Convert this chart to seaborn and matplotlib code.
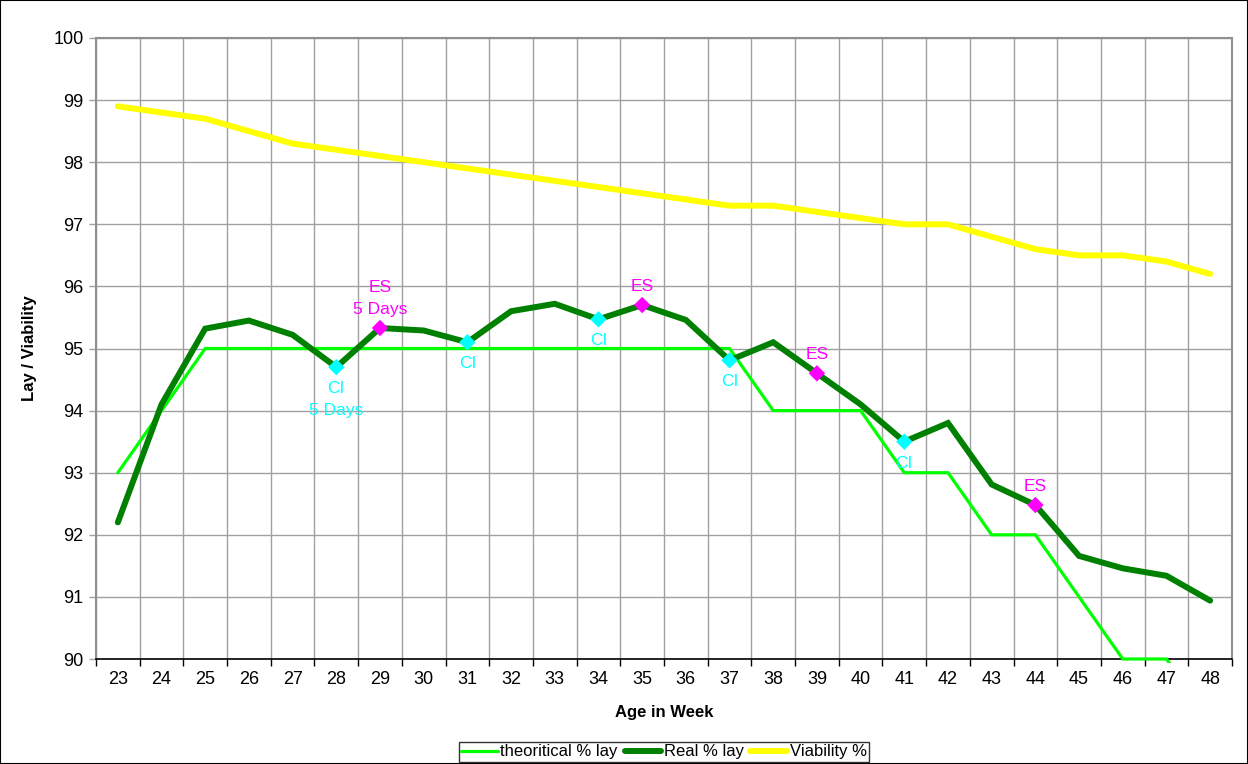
import numpy as np
import pandas as pd
import matplotlib.pyplot as plt
import seaborn as sns
from matplotlib.patches import Rectangle

# Data
weeks = list(range(23, 49))
theoretical = [93, 94, 95, 95, 95, 95, 95, 95, 95, 95, 95, 95, 95, 95, 95,
               94, 94, 94, 93, 93, 92, 92, 91, 90, 90, 89]
real = [92.2, 94.1, 95.32, 95.45, 95.22, 94.7, 95.33, 95.29, 95.1, 95.6,
        95.72, 95.47, 95.7, 95.46, 94.81, 95.1, 94.6, 94.1, 93.5, 93.8,
        92.81, 92.48, 91.66, 91.46, 91.34, 90.94]
viability = [98.9, 98.8, 98.7, 98.5, 98.3, 98.2, 98.1, 98.0, 97.9, 97.8,
             97.7, 97.6, 97.5, 97.4, 97.3, 97.3, 97.2, 97.1, 97.0, 97.0,
             96.8, 96.6, 96.5, 96.5, 96.4, 96.2]

ci_weeks = [28, 31, 34, 37, 41]
ci_labels = ['CI\n5 Days', 'CI', 'CI', 'CI', 'CI']
es_weeks = [29, 35, 39, 44]
es_labels = ['ES\n5 Days', 'ES', 'ES', 'ES']

series_names = ['theoritical % lay', 'Real % lay', 'Viability %']
colors = {'theoritical % lay': '#00FF00', 'Real % lay': '#008000', 'Viability %': '#FFFF00'}
widths = {'theoritical % lay': 2.3, 'Real % lay': 4.3, 'Viability %': 4.3}

df = pd.DataFrame({
    'week': weeks * 3,
    'value': theoretical + real + viability,
    'series': [series_names[0]] * 26 + [series_names[1]] * 26 + [series_names[2]] * 26,
})

sns.set_style('white')
plt.rcParams['font.family'] = ['Liberation Sans', 'DejaVu Sans']
plt.rcParams['text.color'] = 'black'
plt.rcParams['axes.labelcolor'] = 'black'
plt.rcParams['xtick.color'] = 'black'
plt.rcParams['ytick.color'] = 'black'

fig = plt.figure(figsize=(12.48, 7.64), dpi=100)
ax = fig.add_axes([96 / 1248, 105 / 764, 1136 / 1248, 621 / 764])

# clip a little below the axis so lines sitting on 90 stay fully visible
clip_box = Rectangle((0, -0.006), 1, 1.012, transform=ax.transAxes, facecolor='none', edgecolor='none')
ax.add_patch(clip_box)

for name in series_names:
    sub = df[df['series'] == name]
    sns.lineplot(data=sub, x='week', y='value', ax=ax, color=colors[name],
                 linewidth=widths[name], label=name, zorder=3,
                 solid_capstyle='round', solid_joinstyle='miter')
for line in ax.get_lines():
    line.set_clip_path(clip_box)

real_lookup = dict(zip(weeks, real))
marks = pd.DataFrame({
    'week': ci_weeks + es_weeks,
    'value': [real_lookup[w] for w in ci_weeks + es_weeks],
    'kind': ['CI'] * len(ci_weeks) + ['ES'] * len(es_weeks),
})
sns.scatterplot(data=marks, x='week', y='value', hue='kind',
                palette={'CI': '#00FFFF', 'ES': '#FF00FF'}, marker='D', s=70,
                edgecolor='none', ax=ax, zorder=4, legend=False)

for w, lab in zip(ci_weeks, ci_labels):
    ax.annotate(lab, (w, real_lookup[w]), xytext=(0, -10), textcoords='offset points',
                ha='center', va='top', color='#00FFFF', fontsize=12.5,
                linespacing=1.55, zorder=5)
for w, lab in zip(es_weeks, es_labels):
    ax.annotate(lab, (w, real_lookup[w]), xytext=(0, 8), textcoords='offset points',
                ha='center', va='bottom', color='#FF00FF', fontsize=12.5,
                linespacing=1.55, zorder=5)

ax.set_xlim(22.5, 48.5)
ax.set_ylim(90, 100)
ax.set_xticks(weeks)
ax.set_xticks(np.arange(22.5, 48.6, 1), minor=True)
ax.set_yticks(range(90, 101))
ax.tick_params(axis='x', which='major', length=0, pad=9, labelsize=13)
ax.tick_params(axis='x', which='minor', length=5, width=1, color='black', bottom=True, direction='out')
ax.tick_params(axis='y', which='major', length=5, width=1, color='#A0A0A0', left=True, labelsize=13, pad=4)
ax.grid(True, which='minor', axis='x', color='#A0A0A0', linewidth=1)
ax.grid(True, which='major', axis='y', color='#A0A0A0', linewidth=1)
ax.grid(False, which='major', axis='x')

for side in ['top', 'right', 'left']:
    ax.spines[side].set_color('#909090')
    ax.spines[side].set_linewidth(1.5)
ax.spines['bottom'].set_color('black')
ax.spines['bottom'].set_linewidth(1.2)

ax.set_xlabel('Age in Week', fontsize=12, fontweight='bold', labelpad=12)
ax.set_ylabel('Lay / Viability', fontsize=12, fontweight='bold', labelpad=12)

handles, labels = ax.get_legend_handles_labels()
ax.get_legend().remove()
leg = fig.legend(handles, labels, loc='upper center', bbox_to_anchor=(0.532, 0.029),
                 borderaxespad=0, ncol=3, frameon=True, fancybox=False, edgecolor='black',
                 fontsize=12, handlelength=2.2, handletextpad=0.15, columnspacing=0.4,
                 borderpad=0.15)
leg.get_frame().set_linewidth(1)

fig.patches.append(Rectangle((0, 0), 1, 1, transform=fig.transFigure, fill=False,
                             edgecolor='black', linewidth=1.5))

fig.savefig('out.png', dpi=100)
